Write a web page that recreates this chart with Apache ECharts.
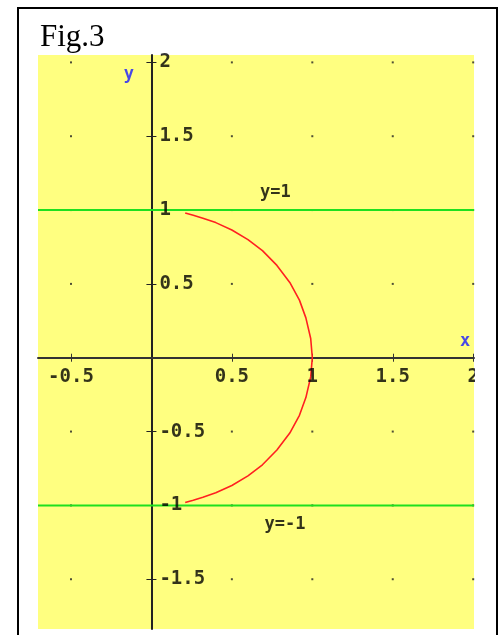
<!DOCTYPE html>
<html>
<head>
<meta charset="utf-8">
<script src="https://cdn.jsdelivr.net/npm/echarts@6/dist/echarts.min.js"></script>
<style>
html,body{margin:0;padding:0;background:#fff;}
#c{width:501px;height:635px;}
</style>
</head>
<body>
<div id="c"></div>
<script>
// ---- data ----
const xTicks = [-0.5, 0.5, 1, 1.5, 2];
const xTickLabels = ['-0.5', '0.5', '1', '1.5', '2'];
const yTicks = [-1.5, -1, -0.5, 0.5, 1, 1.5, 2];
const yTickLabels = ['-1.5', '-1', '-0.5', '0.5', '1', '1.5', '2'];
const gridDotX = [-0.5, 0.5, 1, 1.5, 2];
const gridDotY = [-1.5, -1, -0.5, 0.5, 1, 1.5, 2];
const hLineValues = [1, -1];
const hLineLabels = ['y=1', 'y=-1'];
const hLineLabelX = [0.77, 0.83];
const hLineLabelY = [1.12, -1.13];
const curveX = [0.21, 0.26, 0.32, 0.40, 0.50, 0.60, 0.69, 0.78, 0.86, 0.92, 0.96, 0.99, 1.00,
                0.99, 0.96, 0.92, 0.86, 0.78, 0.69, 0.60, 0.50, 0.40, 0.32, 0.26, 0.21];
const curveY = [0.98, 0.965, 0.945, 0.915, 0.865, 0.80, 0.725, 0.625, 0.51, 0.39, 0.27, 0.13, 0,
                -0.13, -0.27, -0.39, -0.51, -0.625, -0.725, -0.80, -0.865, -0.915, -0.945, -0.965, -0.98];
const xRange = [-0.705, 2.005];
const yRange = [-1.837, 2.05];

// ---- build ----
const curve = curveX.map((x, i) => [x, curveY[i]]);
const dots = [];
gridDotX.forEach(x => gridDotY.forEach(y => dots.push([x, y])));
const monoFont = '"DejaVu Sans Mono", monospace';
const chart = echarts.init(document.getElementById('c'));

const hLineSeries = hLineValues.map((v, i) => ({
  type: 'line', data: [[xRange[0], v], [xRange[1], v]], showSymbol: false, silent: true,
  lineStyle: { color: '#1ee01e', width: 2 }, z: 3
}));

const tickLabelStyle = { fontFamily: monoFont, fontWeight: 'bold', fontSize: 19, color: '#000' };

chart.setOption({
  animation: false,
  backgroundColor: '#fff',
  title: {
    text: 'Fig.3', left: 35, top: 17,
    textStyle: { fontFamily: '"Liberation Serif", "Times New Roman", serif', fontWeight: 'normal', fontSize: 31, color: '#000' }
  },
  grid: { left: 38, right: 27, top: 55, bottom: 6, show: true, backgroundColor: '#ffff80', borderWidth: 0,
          containLabel: false, outerBoundsMode: 'none' },
  xAxis: [{
    type: 'value', min: xRange[0], max: xRange[1],
    axisLine: { show: true, onZero: true, onZeroAxisIndex: 0, lineStyle: { color: '#333', width: 2 } },
    axisTick: { show: true, length: 4, customValues: xTicks, lineStyle: { color: '#333', width: 1 } },
    axisLabel: { show: false },
    splitLine: { show: false }
  }, {
    type: 'value', min: xRange[0], max: xRange[1], position: 'bottom',
    axisLine: { show: true, onZero: true, onZeroAxisIndex: 0, lineStyle: { color: 'rgba(0,0,0,0)', width: 0 } },
    axisTick: { show: true, inside: true, length: 4, customValues: xTicks, lineStyle: { color: '#333', width: 1 } },
    axisLabel: { show: false },
    splitLine: { show: false }
  }],
  yAxis: [{
    type: 'value', min: yRange[0], max: yRange[1],
    axisLine: { show: true, onZero: true, onZeroAxisIndex: 0, lineStyle: { color: '#222', width: 2 } },
    axisTick: { show: true, length: 5, customValues: yTicks, lineStyle: { color: '#222', width: 1 } },
    axisLabel: { show: false },
    splitLine: { show: false }
  }, {
    type: 'value', min: yRange[0], max: yRange[1], position: 'left',
    axisLine: { show: true, onZero: true, onZeroAxisIndex: 0, lineStyle: { color: 'rgba(0,0,0,0)', width: 0 } },
    axisTick: { show: true, inside: true, length: 5, customValues: yTicks, lineStyle: { color: '#222', width: 1 } },
    axisLabel: { show: false },
    splitLine: { show: false }
  }],
  graphic: [
    { type: 'rect', shape: { x: 475, y: 362, width: 20, height: 35 }, style: { fill: '#fff' }, z: 100 },
    { type: 'polyline', shape: { points: [[18, 635], [18, 8], [497, 8], [497, 635]] },
      style: { stroke: '#000', lineWidth: 2, fill: null }, z: 100 }
  ],
  series: [
    { type: 'scatter', data: dots, symbol: 'rect', symbolSize: 2, itemStyle: { color: '#222' }, silent: true, z: 1 },
    ...hLineSeries,
    { type: 'line', data: curve, showSymbol: false, smooth: false, silent: true,
      lineStyle: { color: '#ff2020', width: 1.6 }, z: 4 },
    // x tick labels, placed on the axis at y = 0
    { type: 'scatter', symbolSize: 0, silent: true, z: 5,
      data: xTicks.map((v, i) => ({ value: [v, 0], name: xTickLabels[i] })),
      label: { show: true, position: 'bottom', distance: 10, formatter: p => p.name, ...tickLabelStyle } },
    // y tick labels, placed right of the axis at x = 0
    { type: 'scatter', symbolSize: 0, silent: true, z: 5,
      data: yTicks.map((v, i) => ({ value: [0, v], name: yTickLabels[i] })),
      label: { show: true, position: 'right', distance: 8, formatter: p => p.name, ...tickLabelStyle } },
    { type: 'scatter', symbolSize: 0, silent: true, z: 5,
      data: hLineLabels.map((t, i) => ({ value: [hLineLabelX[i], hLineLabelY[i]], name: t })),
      label: { show: true, position: 'inside', formatter: p => p.name,
        fontFamily: monoFont, fontWeight: 'bold', fontSize: 17, color: '#000' } },
    { type: 'scatter', symbolSize: 0, silent: true, z: 5,
      data: [{ value: [1.95, 0.11], name: 'x' }, { value: [-0.14, 1.92], name: 'y' }],
      label: { show: true, position: 'inside', formatter: p => p.name,
        fontFamily: monoFont, fontWeight: 'bold', fontSize: 17, color: '#1a1aff' } }
  ]
});
</script>
</body>
</html>
